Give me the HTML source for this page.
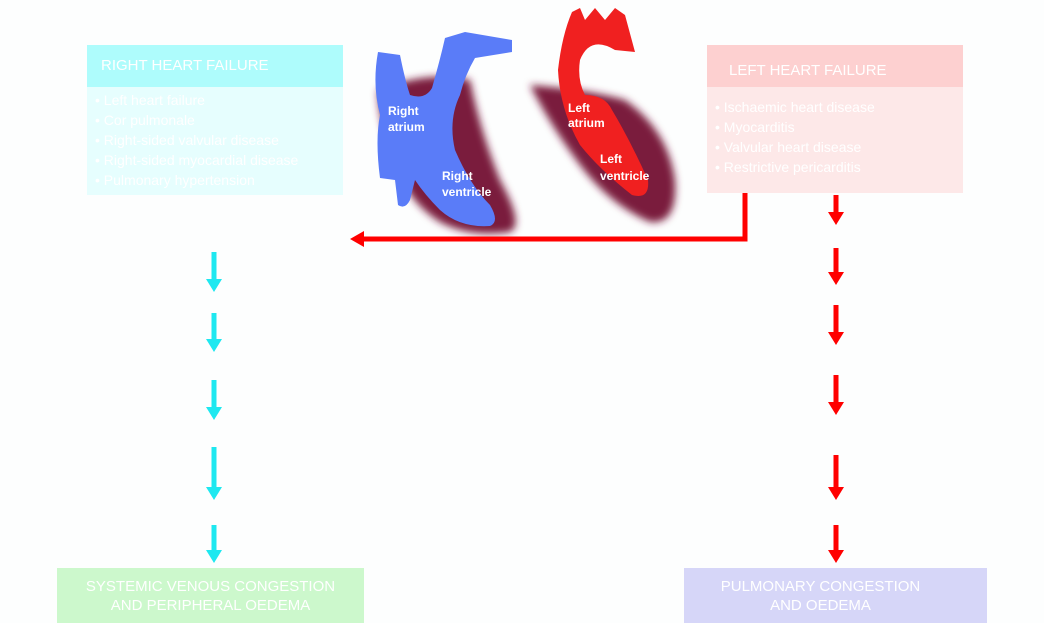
<!DOCTYPE html>
<html><head><meta charset="utf-8"><style>
body{margin:0;width:1044px;height:623px;background:#fdfefe;overflow:hidden;font-family:"Liberation Sans",sans-serif;position:relative}
.box{position:absolute;color:#fff}
.hd{font-size:15px;padding-left:14px;box-sizing:border-box;line-height:42px}
.li{font-size:14px;line-height:20px;padding-left:8px}
</style></head><body>
<div class="box" style="left:87px;top:45px;width:256px;height:150px;background:#e6fefe">
 <div class="hd" style="background:#aefcfc;height:42px">RIGHT HEART FAILURE</div>
 <div style="padding-top:3px">
  <div class="li">• Left heart failure</div><div class="li">• Cor pulmonale</div><div class="li">• Right-sided valvular disease</div><div class="li">• Right-sided myocardial disease</div><div class="li">• Pulmonary hypertension</div>
 </div>
</div>
<div class="box" style="left:707px;top:45px;width:256px;height:148px;background:#fde8e8">
 <div class="hd" style="background:#fdd0d0;height:42px;padding-left:22px;line-height:52px">LEFT HEART FAILURE</div>
 <div style="padding-top:10px">
  <div class="li">• Ischaemic heart disease</div><div class="li">• Myocarditis</div><div class="li">• Valvular heart disease</div><div class="li">• Restrictive pericarditis</div>
 </div>
</div>
<div class="box" style="left:57px;top:568px;width:307px;height:55px;background:#ccf8cc;text-align:center;font-size:15px;line-height:19px;padding-top:9px;box-sizing:border-box">SYSTEMIC VENOUS CONGESTION<br>AND PERIPHERAL OEDEMA</div>
<div class="box" style="left:684px;top:568px;width:303px;height:55px;background:#d6d6f8;text-align:center;font-size:15px;line-height:19px;padding-top:9px;box-sizing:border-box;padding-right:30px">PULMONARY CONGESTION<br>AND OEDEMA</div>
<svg width="1044" height="623" style="position:absolute;left:0;top:0">
<defs><filter id="b"><feGaussianBlur stdDeviation="4"/></filter></defs>
<g>
 <path d="M378 90 Q430 70 470 80 Q480 130 500 180 Q525 225 510 232 Q470 238 440 222 Q405 200 395 160 Q380 130 378 90Z" fill="#7a1c3c" filter="url(#b)"/>
 <path d="M378 52 L400 55 Q405 80 410 95 Q425 100 432 88 Q440 60 445 38 L465 32 L512 40 L512 52 L475 58 Q465 75 460 95 Q448 120 455 150 Q470 185 490 205 Q500 222 490 226 Q460 228 440 210 Q425 195 415 180 L410 200 Q405 210 398 205 L395 180 L380 178 Q375 140 380 115 Q372 85 378 52Z" fill="#5a7cf8"/>
 <text x="388" y="115" fill="#fff" font-size="12" font-weight="bold">Right</text>
 <text x="388" y="131" fill="#fff" font-size="12" font-weight="bold">atrium</text>
 <text x="442" y="180" fill="#fff" font-size="12" font-weight="bold">Right</text>
 <text x="442" y="196" fill="#fff" font-size="12" font-weight="bold">ventricle</text>
</g>
<g>
 <path d="M530 85 Q590 90 625 100 Q668 130 675 180 Q678 225 650 222 Q610 205 580 165 Q550 125 530 85Z" fill="#7a1c3c" filter="url(#b)"/>
 <path d="M572 12 L580 8 L585 20 L595 8 L605 20 L615 8 L625 15 L635 52 L615 50 Q590 35 580 60 Q577 80 585 95 Q605 95 612 110 Q630 140 648 180 Q650 200 632 195 Q600 170 580 145 Q560 110 558 70 Q562 35 572 12Z" fill="#f02020"/>
 <text x="568" y="112" fill="#fff" font-size="12" font-weight="bold">Left</text>
 <text x="568" y="127" fill="#fff" font-size="12" font-weight="bold">atrium</text>
 <text x="600" y="163" fill="#fff" font-size="12" font-weight="bold">Left</text>
 <text x="600" y="180" fill="#fff" font-size="12" font-weight="bold">ventricle</text>
</g>
<g>
 <polyline points="745,193 745,239 362,239" fill="none" stroke="#f00" stroke-width="5"/>
 <polygon points="350,239 364,231 364,247" fill="#f00"/>
</g>
<g id="arrows"></g>
</svg>
<script>
const cyanArrows=[[252,292],[313,352],[380,420],[447,500],[525,563]];
const redArrows=[[195,225],[248,285],[305,345],[375,415],[455,500],[525,563]];
const g=document.getElementById('arrows');
function arr(x,y1,y2,c,n){
 const e=document.createElementNS('http://www.w3.org/2000/svg','g');
 
 
 e.innerHTML=`<rect x="${x-2.5}" y="${y1}" width="5" height="${y2-y1-12}" fill="${c}"/><polygon points="${x-8},${y2-13} ${x+8},${y2-13} ${x},${y2}" fill="${c}"/>`;
 g.appendChild(e);
}
cyanArrows.forEach(a=>arr(214,a[0],a[1],'#1ee8f0','cyan-arrow'));
redArrows.forEach(a=>arr(836,a[0],a[1],'#f00','red-arrow'));
</script>
</body></html>
